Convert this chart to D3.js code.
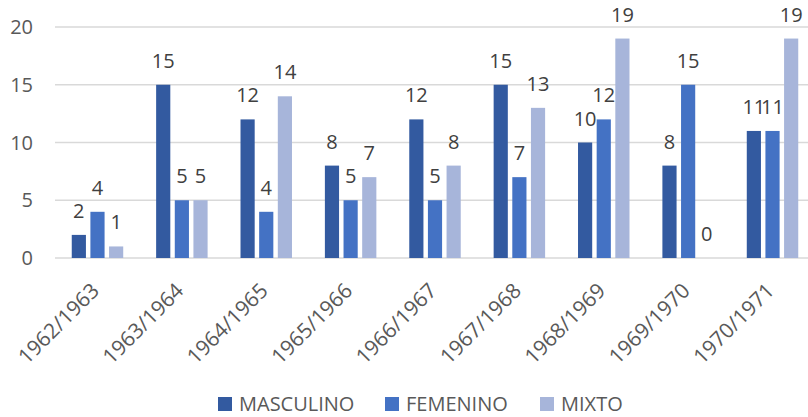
<!DOCTYPE html>
<html>
<head>
<meta charset="utf-8">
<script src="https://cdn.jsdelivr.net/npm/d3@7"></script>
<style>
  body { margin: 0; background: #fff; }
  text { font-family: "Open Sans", sans-serif; }
</style>
</head>
<body>
<div id="chart"></div>
<script>
const categories = ['1962/1963', '1963/1964', '1964/1965', '1965/1966', '1966/1967',
                    '1967/1968', '1968/1969', '1969/1970', '1970/1971'];
const seriesNames = ['MASCULINO', 'FEMENINO', 'MIXTO'];
const masculino = [2, 15, 12, 8, 12, 15, 10, 8, 11];
const femenino = [4, 5, 4, 5, 5, 7, 12, 15, 11];
const mixto = [1, 5, 14, 7, 8, 13, 19, 0, 19];
const yTicks = [0, 5, 10, 15, 20];
const colors = ['#335aa0', '#4472c4', '#a7b5da'];

const w = 808;
const h = 417;

const seriesValues = [masculino, femenino, mixto];

const svg = d3.select('#chart').append('svg').attr('width', w).attr('height', h);

const xScale = d3.scaleBand().domain(categories).range([55.3, 814.7]).padding(0);
const bw = xScale.bandwidth();
const x1 = d3.scaleBand().domain(seriesNames)
    .range([bw * 0.195, bw * 0.805]).paddingInner(0.24).paddingOuter(0);
const yScale = d3.scaleLinear().domain([0, 20]).range([258, 27]);
const color = d3.scaleOrdinal().domain(seriesNames).range(colors);

// gridlines
svg.append('g').selectAll('line')
    .data(yTicks)
    .enter()
    .append('line')
    .attr('x1', 55)
    .attr('x2', w)
    .attr('y1', d => yScale(d))
    .attr('y2', d => yScale(d))
    .attr('stroke', '#d9d9d9')
    .attr('stroke-width', 1.5);

// y tick labels
svg.append('g').selectAll('text')
    .data(yTicks)
    .enter()
    .append('text')
    .attr('x', 33)
    .attr('y', d => yScale(d))
    .attr('dy', '0.36em')
    .attr('text-anchor', 'end')
    .attr('font-size', 20)
    .attr('fill', '#595959')
    .text(d => d);

const rows = [];
categories.forEach((c, i) => {
    seriesNames.forEach((s, j) => {
        rows.push({ cat: c, series: s, value: seriesValues[j][i] });
    });
});

const groups = svg.append('g');

groups.selectAll('rect')
    .data(rows)
    .enter()
    .append('rect')
    .attr('x', d => xScale(d.cat) + x1(d.series))
    .attr('width', x1.bandwidth())
    .attr('y', d => yScale(d.value))
    .attr('height', d => yScale(0) - yScale(d.value))
    .attr('fill', d => color(d.series));

groups.selectAll('text')
    .data(rows)
    .enter()
    .append('text')
    .attr('x', d => xScale(d.cat) + x1(d.series) + x1.bandwidth() / 2)
    .attr('y', d => yScale(d.value) - 17)
    .attr('text-anchor', 'middle')
    .attr('font-size', 20)
    .attr('fill', '#404040')
    .text(d => d.value);

// x labels
svg.append('g').selectAll('text')
    .data(categories)
    .enter()
    .append('text')
    .attr('transform', d => `translate(${xScale(d) + bw / 2 + 3},292) rotate(-45)`)
    .attr('text-anchor', 'end')
    .attr('font-size', 21)
    .attr('fill', '#595959')
    .text(d => d);

// legend
const legendX = [218, 385, 540];
const legend = svg.append('g').selectAll('g')
    .data(seriesNames)
    .enter()
    .append('g')
    .attr('transform', (d, i) => `translate(${legendX[i]},0)`);

legend.append('rect')
    .attr('x', 0)
    .attr('y', 397)
    .attr('width', 14)
    .attr('height', 14)
    .attr('fill', d => color(d));

legend.append('text')
    .attr('x', 21)
    .attr('y', 411)
    .attr('font-size', 20)
    .attr('fill', '#595959')
    .text(d => d);
</script>
</body>
</html>
